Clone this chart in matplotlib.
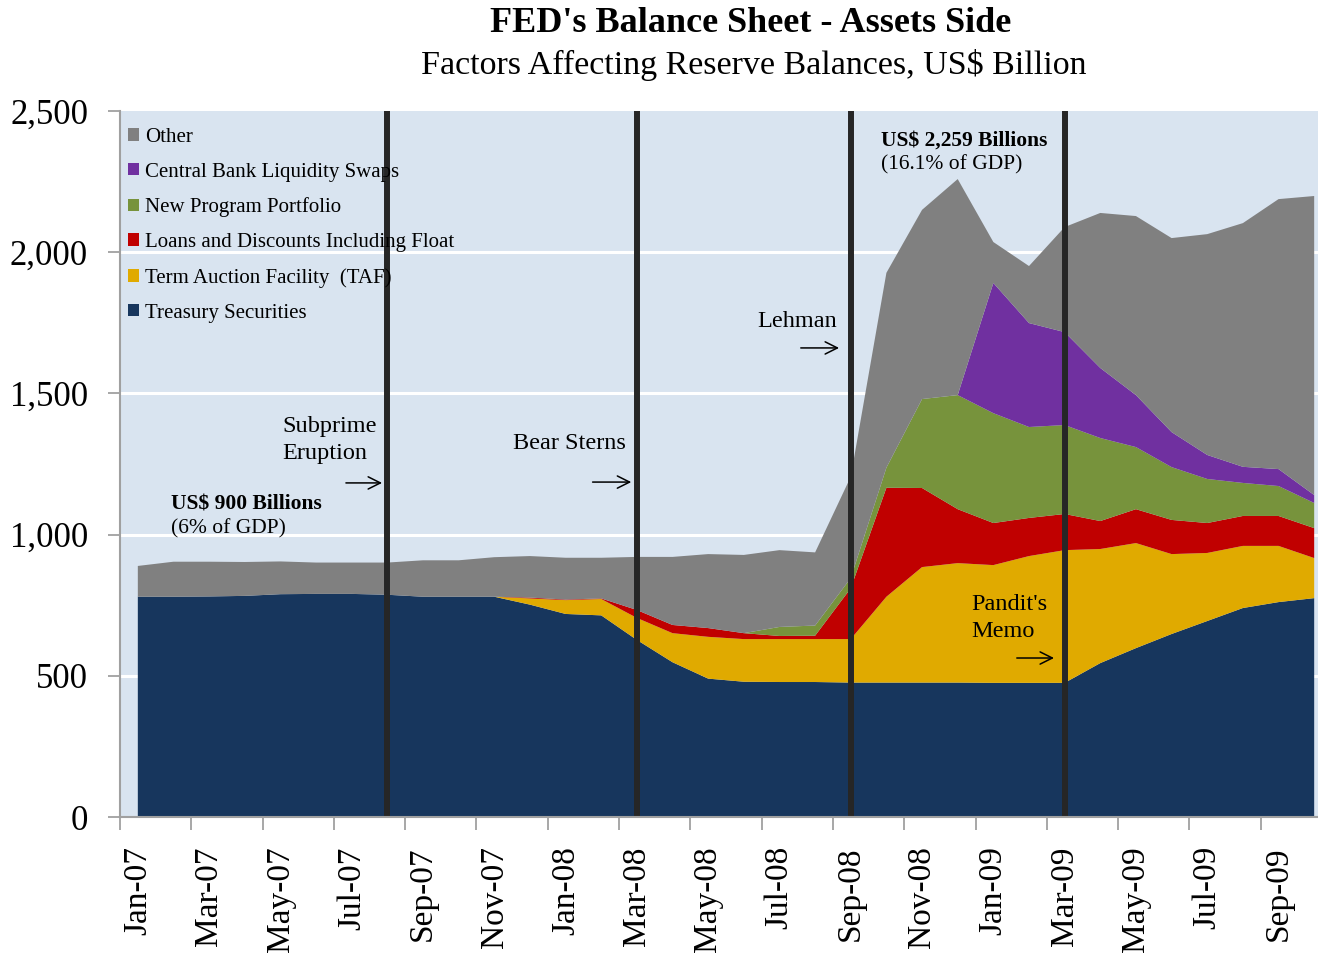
import matplotlib
matplotlib.use("Agg")
import matplotlib.pyplot as plt
from matplotlib.patches import Patch
import numpy as np

plt.rcParams['font.family'] = ['Liberation Serif', 'DejaVu Serif']

# monthly data Jan-07 .. Oct-09, US$ billion
months = ['Jan-07', 'Feb-07', 'Mar-07', 'Apr-07', 'May-07', 'Jun-07', 'Jul-07', 'Aug-07',
          'Sep-07', 'Oct-07', 'Nov-07', 'Dec-07', 'Jan-08', 'Feb-08', 'Mar-08', 'Apr-08',
          'May-08', 'Jun-08', 'Jul-08', 'Aug-08', 'Sep-08', 'Oct-08', 'Nov-08', 'Dec-08',
          'Jan-09', 'Feb-09', 'Mar-09', 'Apr-09', 'May-09', 'Jun-09', 'Jul-09', 'Aug-09',
          'Sep-09', 'Oct-09']
treasury = [780, 780, 781, 783, 789, 790, 790, 787, 780, 780, 780, 752, 719, 714, 627, 548, 490,
            479, 478, 478, 476, 476, 476, 476, 475, 475, 475, 545, 598, 648, 694, 740, 761, 775]
taf = [0, 0, 0, 0, 0, 0, 0, 0, 0, 0, 0, 22, 49, 58, 78, 103, 148,
       151, 152, 152, 154, 304, 409, 423, 417, 449, 470, 404, 372, 283, 241, 220, 199, 142]
loans = [0, 0, 0, 0, 0, 0, 0, 0, 0, 0, 0, 3, 2, 2, 28, 29, 31,
         21, 11, 12, 180, 386, 280, 191, 149, 135, 128, 99, 120, 121, 106, 106, 106, 106]
new_prog = [0, 0, 0, 0, 0, 0, 0, 0, 0, 0, 0, 0, 0, 0, 0, 0, 0,
            0, 32, 36, 36, 71, 315, 404, 389, 322, 315, 294, 220, 187, 156, 117, 106, 89]
cbls = [0, 0, 0, 0, 0, 0, 0, 0, 0, 0, 0, 0, 0, 0, 0, 0, 0,
        0, 0, 0, 0, 0, 0, 0, 461, 368, 329, 248, 184, 124, 85, 57, 60, 28]
other = [109, 124, 123, 120, 116, 111, 111, 114, 129, 129, 140, 147, 148, 144, 188, 241, 262,
         277, 272, 259, 359, 690, 670, 765, 145, 202, 372, 549, 634, 687, 782, 863, 956, 1059]

tick_labels = months[::2]
event_months = ['Aug-07', 'Mar-08', 'Sep-08', 'Mar-09']

names = ['Treasury Securities', 'Term Auction Facility  (TAF)', 'Loans and Discounts Including Float',
         'New Program Portfolio', 'Central Bank Liquidity Swaps', 'Other']
colors = ['#17365D', '#E0AA00', '#C00000', '#77933C', '#7030A0', '#808080']

fig = plt.figure(figsize=(13.18, 9.57), dpi=100)
ax = fig.add_axes([120 / 1318, 140 / 957, 1212 / 1318, 706 / 957])
ax.set_facecolor('#D9E4F0')

x = np.arange(len(months))
ax.stackplot(x, treasury, taf, loans, new_prog, cbls, other, colors=colors, lw=0, zorder=2)

ax.set_xlim(-0.5, len(months) - 0.5)
ax.set_ylim(0, 2500)
ax.set_yticks(range(0, 2501, 500))
ax.set_yticklabels(['{:,}'.format(v) for v in range(0, 2501, 500)], fontsize=25)
for v in range(500, 2001, 500):
    ax.axhline(v, color='white', lw=2.2, zorder=1)

# tick marks every 2 months, labels centered on the month
ax.set_xticks(np.arange(-0.5, len(months), 2))
ax.set_xticklabels([])
ax.set_xticks(np.arange(0, len(months), 2), minor=True)
ax.set_xticklabels(tick_labels, minor=True, rotation=90, fontsize=24, va='top', ha='center')
ax.tick_params(axis='x', which='major', length=9, color='#A0A0A0', width=1.3)
ax.tick_params(axis='x', which='minor', length=0, pad=21)
ax.tick_params(axis='y', length=9, color='#A0A0A0', width=1.3, pad=14)

for s in ['top', 'right']:
    ax.spines[s].set_visible(False)
for s in ['left', 'bottom']:
    ax.spines[s].set_color('#A0A0A0')
    ax.spines[s].set_linewidth(1.5)
    ax.spines[s].set_zorder(5)

for m in event_months:
    ax.axvline(months.index(m), color='#262626', lw=4.3, zorder=4)

# annotations
ax.text(0.93, 1105, 'US$ 900 Billions', fontsize=15.5, fontweight='bold', va='center', zorder=6)
ax.text(0.93, 1020, '(6% of GDP)', fontsize=15.5, va='center', zorder=6)
ax.text(20.85, 2394, 'US$ 2,259 Billions', fontsize=15.5, fontweight='bold', va='center', zorder=6)
ax.text(20.85, 2309, '(16.1% of GDP)', fontsize=15.5, va='center', zorder=6)

notes = [('Subprime\nEruption', 4.05, 1335, 5.76, 6.93, 1183),
         ('Bear Sterns', 10.53, 1321, 12.68, 13.92, 1186),
         ('Lehman', 17.37, 1756, 18.52, 19.75, 1661),
         ("Pandit's\nMemo", 23.37, 705, 24.58, 25.78, 563)]
for txt, tx, ty, ax0, ax1, ay in notes:
    ax.text(tx, ty, txt, fontsize=17.5, va='center', ha='left', linespacing=1.4, zorder=6)
    ax.annotate('', xy=(ax1, ay), xytext=(ax0, ay),
                arrowprops=dict(arrowstyle='->', color='black', lw=1.1, mutation_scale=22), zorder=6)

handles = [Patch(facecolor=c, edgecolor='none') for c in colors][::-1]
leg = ax.legend(handles, names[::-1], loc='upper left', bbox_to_anchor=(-0.004, 0.994),
                frameon=False, fontsize=15, handlelength=0.55, handleheight=0.55,
                handletextpad=0.3, labelspacing=0.76, borderaxespad=0.2)
leg.set_zorder(6)

fig.text(751 / 1318, 1 - 23 / 957, "FED's Balance Sheet - Assets Side", fontsize=26,
         fontweight='bold', ha='center', va='center')
fig.text(754 / 1318, 1 - 65 / 957, 'Factors Affecting Reserve Balances, US$ Billion', fontsize=24.5,
         ha='center', va='center')

fig.savefig('out.png', dpi=100)
